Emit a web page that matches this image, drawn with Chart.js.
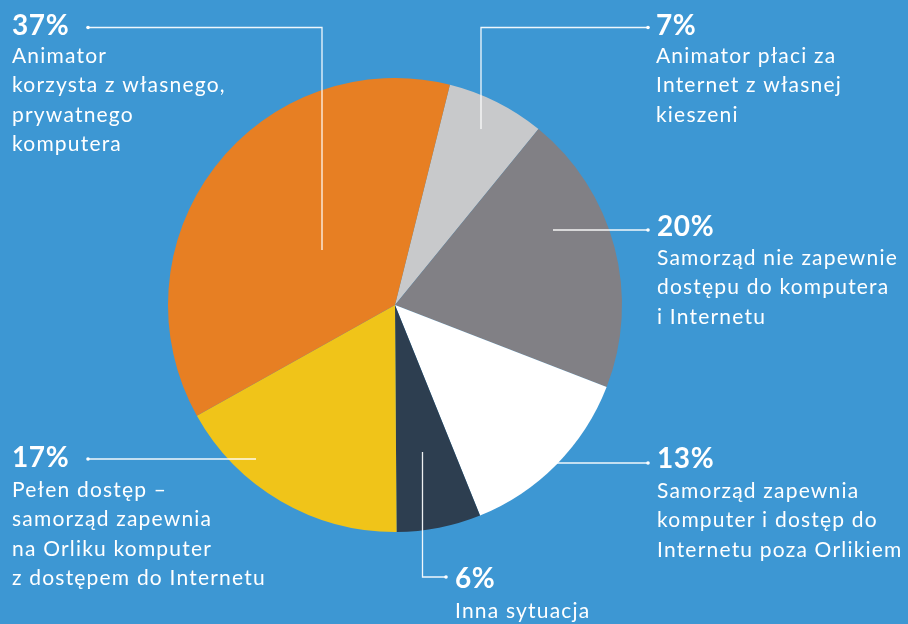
<!DOCTYPE html>
<html>
<head>
<meta charset="utf-8">
<script src="https://cdn.jsdelivr.net/npm/chart.js@4"></script>
<style>
  html, body { margin: 0; padding: 0; background: #3d97d3; }
  #wrap { position: relative; width: 908px; height: 624px; }
</style>
</head>
<body>
<div id="wrap"><canvas id="c" width="908" height="624"></canvas></div>
<script>
// ---- data ----
const categories = [
  ["Animator płaci za", "Internet z własnej", "kieszeni"],
  ["Samorząd nie zapewnie", "dostępu do komputera", "i Internetu"],
  ["Samorząd zapewnia", "komputer i dostęp do", "Internetu poza Orlikiem"],
  ["Inna sytuacja"],
  ["Pełen dostęp –", "samorząd zapewnia", "na Orliku komputer", "z dostępem do Internetu"],
  ["Animator", "korzysta z własnego,", "prywatnego", "komputera"]
];
const values = [7, 20, 13, 6, 17, 37];
const colors = ["#c8c9cb", "#818085", "#ffffff", "#2d3e50", "#f0c419", "#e77f23"];

// ---- label layout (annotation placement only) ----
const labelLayout = [
  { x: 656, pct: 35,  first: 63,  line: [[648,27.5],[481,27.5],[481,129]] },
  { x: 657, pct: 236, first: 265, line: [[648,230],[553,230]] },
  { x: 657, pct: 468, first: 498, line: [[648,463],[540,463]] },
  { x: 455, pct: 588, first: 618, line: [[446,577],[422.5,577],[422.5,452]] },
  { x: 12,  pct: 467, first: 497, line: [[88,459],[256,459]] },
  { x: 12,  pct: 35,  first: 63,  line: [[88,27.5],[322,27.5],[322,250]] }
];

const bgPlugin = {
  id: 'bg',
  beforeDraw(chart) {
    const ctx = chart.ctx;
    ctx.save();
    ctx.fillStyle = '#3d97d3';
    ctx.fillRect(0, 0, chart.width, chart.height);
    ctx.restore();
  }
};

const labelPlugin = {
  id: 'labels',
  afterDraw(chart) {
    const ctx = chart.ctx;
    ctx.save();
    labelLayout.forEach((L, i) => {
      // leader line
      ctx.strokeStyle = 'rgba(255,255,255,0.92)';
      ctx.lineWidth = 1.3;
      ctx.beginPath();
      L.line.forEach((p, k) => k === 0 ? ctx.moveTo(p[0], p[1]) : ctx.lineTo(p[0], p[1]));
      ctx.stroke();
      ctx.fillStyle = '#ffffff';
      ctx.beginPath();
      ctx.arc(L.line[0][0], L.line[0][1], 1.8, 0, Math.PI * 2);
      ctx.fill();
      // texts
      ctx.textBaseline = 'alphabetic';
      ctx.textAlign = 'left';
      ctx.font = 'bold 28px Lato';
      ctx.letterSpacing = '0.6px';
      ctx.fillText(values[i] + '%', L.x, L.pct);
      ctx.font = '21px Lato';
      ctx.letterSpacing = '1.2px';
      categories[i].forEach((t, k) => ctx.fillText(t, L.x, L.first + k * 29.3));
    });
    ctx.restore();
  }
};

new Chart(document.getElementById('c'), {
  type: 'pie',
  data: {
    labels: categories.map(c => c.join(' ')),
    datasets: [{
      data: values,
      backgroundColor: colors,
      borderWidth: 0,
      hoverOffset: 0
    }]
  },
  options: {
    responsive: false,
    animation: false,
    rotation: 14,
    layout: { padding: { left: 168, right: 286, top: 78, bottom: 92 } },
    plugins: {
      legend: { display: false },
      tooltip: { enabled: false }
    },
    events: []
  },
  plugins: [bgPlugin, labelPlugin]
});
</script>
</body>
</html>
